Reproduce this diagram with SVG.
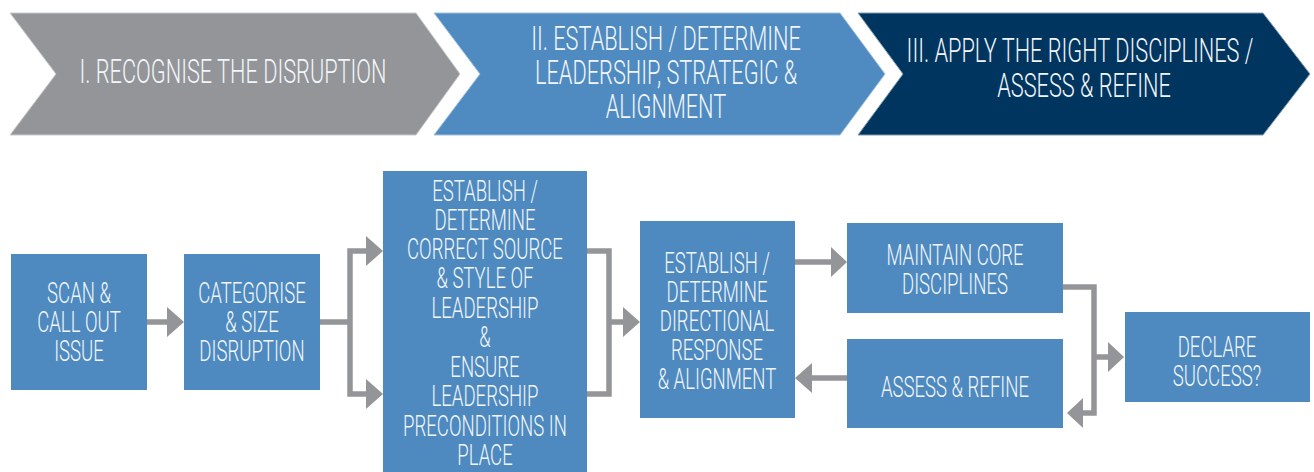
<svg xmlns="http://www.w3.org/2000/svg" width="1314" height="472" viewBox="0 0 1314 472">
  <style>
    .t { font-family: Roboto, "Liberation Sans", sans-serif; font-weight: 300; fill: #f2f6fa; text-anchor: middle;
         transform-box: fill-box; transform-origin: center; transform: scaleX(0.64); }
    .hd { font-size: 34px; }
    .bx { font-size: 29px; }
    .box { fill: #4e8abf; }
    .wire { fill: none; stroke: #939598; stroke-width: 5.5; stroke-linejoin: miter; }
    .head { fill: #939598; }
  </style>

  <!-- phase banners -->
  <g id="phase-1">
    <polygon points="10,13 416,13 460,74 416,135 10,135 56,74" fill="#939598" stroke="#c9cacc" stroke-width="1"/>
    <text class="t hd" x="233" y="83">I. RECOGNISE THE DISRUPTION</text>
  </g>
  <g id="phase-2">
    <polygon points="434,13 840,13 885,74 840,135 434,135 480,74" fill="#4f8bc0" stroke="#9fc0de" stroke-width="1"/>
    <text class="t hd" x="666" y="50">II. ESTABLISH / DETERMINE</text>
    <text class="t hd" x="666" y="84">LEADERSHIP, STRATEGIC &amp;</text>
    <text class="t hd" x="666" y="118">ALIGNMENT</text>
  </g>
  <g id="phase-3">
    <polygon points="858,13 1263,13 1310,74 1263,135 858,135 903,74" fill="#00355f" stroke="#7f9ab0" stroke-width="1"/>
    <text class="t hd" x="1080" y="62">III. APPLY THE RIGHT DISCIPLINES /</text>
    <text class="t hd" x="1084" y="97">ASSESS &amp; REFINE</text>
  </g>

  <!-- connectors -->
  <g id="connectors">
    <path class="wire" d="M147,322 H169"/>
    <polygon class="head" points="167,307 184,322 167,337"/>

    <path class="wire" d="M320,322 H350"/>
    <path class="wire" d="M368,251 H350 V394 H368"/>
    <polygon class="head" points="366,236 383,251 366,266"/>
    <polygon class="head" points="366,379 383,394 366,409"/>

    <path class="wire" d="M587,251 H609 V394 H587"/>
    <path class="wire" d="M609,322 H625"/>
    <polygon class="head" points="623,307 640,322 623,337"/>

    <path class="wire" d="M795,262 H833"/>
    <polygon class="head" points="831,247 847,262 831,277"/>

    <path class="wire" d="M847,378 H810"/>
    <polygon class="head" points="812,363 795,378 812,393"/>

    <path class="wire" d="M1063,287 H1094 V413 H1081"/>
    <polygon class="head" points="1083,398 1067,413 1083,428"/>
    <path class="wire" d="M1094,357 H1110"/>
    <polygon class="head" points="1108,342 1124,357 1108,372"/>
  </g>

  <!-- process steps -->
  <g id="scan">
    <rect class="box" x="11" y="254" width="136" height="136"/>
    <text class="t bx" x="79" y="303">SCAN &amp;</text>
    <text class="t bx" x="79" y="332">CALL OUT</text>
    <text class="t bx" x="79" y="361">ISSUE</text>
  </g>
  <g id="categorise">
    <rect class="box" x="184" y="254" width="136" height="136"/>
    <text class="t bx" x="252" y="303">CATEGORISE</text>
    <text class="t bx" x="252" y="332">&amp; SIZE</text>
    <text class="t bx" x="252" y="361">DISRUPTION</text>
  </g>
  <g id="leadership">
    <rect class="box" x="383" y="171" width="204" height="301"/>
    <text class="t bx" x="485" y="201">ESTABLISH /</text>
    <text class="t bx" x="485" y="230">DETERMINE</text>
    <text class="t bx" x="485" y="259">CORRECT SOURCE</text>
    <text class="t bx" x="485" y="288">&amp; STYLE OF</text>
    <text class="t bx" x="485" y="318">LEADERSHIP</text>
    <text class="t bx" x="485" y="347">&amp;</text>
    <text class="t bx" x="485" y="377">ENSURE</text>
    <text class="t bx" x="485" y="406">LEADERSHIP</text>
    <text class="t bx" x="485" y="436">PRECONDITIONS IN</text>
    <text class="t bx" x="485" y="465">PLACE</text>
  </g>
  <g id="direction">
    <rect class="box" x="640" y="221" width="155" height="197"/>
    <text class="t bx" x="717" y="273">ESTABLISH /</text>
    <text class="t bx" x="717" y="302">DETERMINE</text>
    <text class="t bx" x="717" y="331">DIRECTIONAL</text>
    <text class="t bx" x="717" y="360">RESPONSE</text>
    <text class="t bx" x="717" y="389">&amp; ALIGNMENT</text>
  </g>
  <g id="maintain">
    <rect class="box" x="847" y="223" width="216" height="90"/>
    <text class="t bx" x="955" y="265">MAINTAIN CORE</text>
    <text class="t bx" x="955" y="294">DISCIPLINES</text>
  </g>
  <g id="assess">
    <rect class="box" x="847" y="339" width="216" height="89"/>
    <text class="t bx" x="955" y="397">ASSESS &amp; REFINE</text>
  </g>
  <g id="declare">
    <rect class="box" x="1125" y="312" width="185" height="90"/>
    <text class="t bx" x="1217" y="357">DECLARE</text>
    <text class="t bx" x="1217" y="386">SUCCESS?</text>
  </g>
</svg>
